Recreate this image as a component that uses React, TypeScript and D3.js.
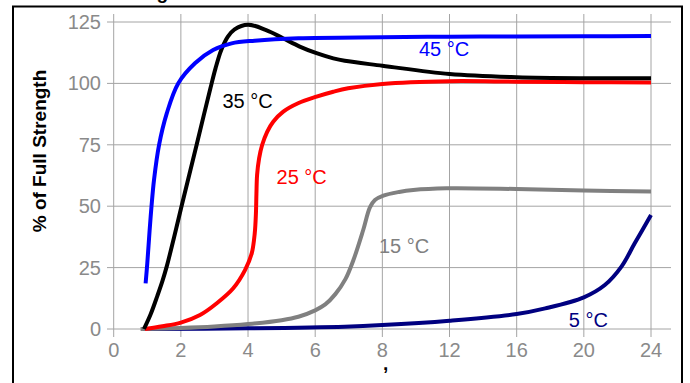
import React from "react";
import * as d3 from "d3";

const xTicks = [0, 2, 4, 6, 8, 12, 16, 20, 24];
const yTicks = [0, 25, 50, 75, 100, 125];

const t45 = [0.95, 1.0, 1.07, 1.125, 1.2, 1.35, 1.58, 1.92, 2.42, 2.96, 3.51, 4.2, 5.5, 8, 12, 16, 20, 24];
const v45 = [18.6, 26.7, 40.3, 49.8, 60.7, 74.9, 87.8, 100, 108.2, 113.6, 116.3, 117.4, 118.4, 118.8, 119, 119.1, 119.2, 119.3];

const t35 = [0.9, 1.1, 1.3, 1.45, 1.58, 1.8, 2.02, 2.47, 2.7, 2.88, 3.03, 3.2, 3.4, 3.6, 4.0, 4.54, 5.04, 5.54, 6.04, 6.54, 6.88, 8, 12, 16, 20, 24];
const v35 = [0, 6, 13.5, 19.5, 25.5, 37.5, 50, 75, 88, 98, 106, 113.5, 119, 122, 123.9, 121.7, 118.4, 115, 112.3, 110.2, 109.2, 107.2, 103.8, 102.5, 102.1, 102.1];

const t25 = [0.93, 1.45, 2.0, 2.57, 3.07, 3.56, 3.91, 4.11, 4.2, 4.235, 4.25, 4.27, 4.33, 4.42, 4.57, 4.75, 5.05, 5.49, 6.04, 6.54, 6.98, 8, 12, 16, 20, 24];
const v25 = [0, 1.1, 2.6, 5.7, 10.5, 16.6, 24, 30.8, 39, 47, 55, 62.7, 69.5, 74.9, 80.3, 84.4, 88.5, 91.9, 94.6, 96.6, 98, 99.8, 100.9, 100.7, 100.5, 100.4];

const t15 = [0.8, 2, 3, 4, 5, 5.5, 6, 6.3, 6.6, 6.9, 7.15, 7.43, 7.63, 7.78, 8.06, 9, 9.84, 11.83, 16, 20, 24];
const v15 = [0, 0.4, 1.0, 2.0, 3.6, 5.0, 7.6, 10, 14.2, 20.3, 28.5, 40.3, 49.5, 52.5, 54.3, 55.8, 56.6, 57.3, 57, 56.4, 56];

const t5 = [0.87, 4, 6.88, 8, 12, 16, 17.7, 20, 21.25, 22.24, 23.03, 24];
const v5 = [0, 0.3, 0.95, 1.6, 3.4, 6.1, 8.4, 12.9, 17.9, 25.4, 34.9, 46.4];

const seriesNames = ["5 °C", "15 °C", "25 °C", "35 °C", "45 °C"];
const seriesT = [t5, t15, t25, t35, t45];
const seriesV = [v5, v15, v25, v35, v45];
const seriesColors = ["#000080", "#808080", "#ff0000", "#000000", "#0000ff"];
// label anchor in data coordinates [t, value]
const labelT = [19.1, 7.9, 4.85, 3.24, 10.18];
const labelV = [0.94, 31.1, 59, 89.9, 111.2];

const yTitle = "% of Full Strength";

export default function App() {
  const W = 690;
  const H = 383;
  const X0 = 113.7;
  const X1 = 651;
  const x = d3
    .scaleLinear()
    .domain(xTicks)
    .range(xTicks.map((_, i) => X0 + (i * (X1 - X0)) / (xTicks.length - 1)));
  const y = d3.scaleLinear().domain([0, 125]).range([329, 22]);

  const line = d3
    .line<[number, number]>()
    .x((d) => x(d[0]))
    .y((d) => y(d[1]))
    .curve(d3.curveCatmullRom.alpha(0.5));

  const font = "'Liberation Sans', Arial, Helvetica, sans-serif";
  const gridColor = "#a4a4a4";
  const tickColor = "#8a8a8a";

  return (
    <div style={{ position: "absolute", left: 0, top: 0 }}>
      <style>{`body{margin:0}`}</style>
      <svg width={W} height={H} style={{ display: "block", background: "#fff" }} fontFamily={font}>
        <rect x={0} y={0} width={W} height={H} fill="#fff" />
        <text x={186} y={-1} textAnchor="end" fontSize={19} fontWeight="bold" fill="#000">
          Strength
        </text>
        <rect x={13} y={6.5} width={669} height={420} fill="none" stroke="#000" strokeWidth={2} />
        {yTicks.map((t) => (
          <line key={"h" + t} x1={107} x2={671} y1={y(t)} y2={y(t)} stroke={gridColor} strokeWidth={1} />
        ))}
        {xTicks.map((t) => (
          <line key={"v" + t} x1={x(t)} x2={x(t)} y1={14} y2={337} stroke={gridColor} strokeWidth={1} />
        ))}
        {yTicks.map((t) => (
          <text key={"yl" + t} x={101} y={y(t) + 7} textAnchor="end" fontSize={20} fill={tickColor}>
            {t}
          </text>
        ))}
        {xTicks.map((t) => (
          <text key={"xl" + t} x={x(t)} y={357} textAnchor="middle" fontSize={20} fill={tickColor}>
            {t}
          </text>
        ))}
        <text
          transform={`translate(46,151) rotate(-90)`}
          textAnchor="middle"
          fontSize={19}
          fontWeight="bold"
          fill="#000"
        >
          {yTitle}
        </text>
        <text x={383} y={370} fontSize={19} fontWeight="bold" fill="#000">
          ,
        </text>
        {seriesT.map((ts, i) => (
          <path
            key={"s" + i}
            d={line(ts.map((t, j) => [t, seriesV[i][j]] as [number, number])) || ""}
            fill="none"
            stroke={seriesColors[i]}
            strokeWidth={4}
          />
        ))}
        {seriesNames.map((n, i) => (
          <text key={"lab" + i} x={x(labelT[i])} y={y(labelV[i])} fontSize={20} fill={seriesColors[i]}>
            {n}
          </text>
        ))}
      </svg>
    </div>
  );
}
